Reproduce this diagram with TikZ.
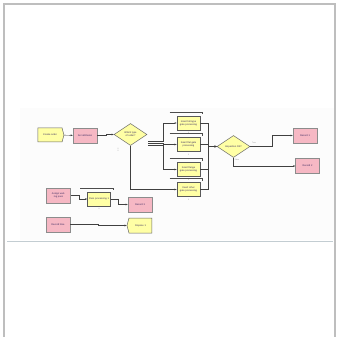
\documentclass[tikz,border=0pt]{standalone}
\usepackage{fontspec}
\setmainfont{Liberation Sans}
\usepackage{tikz}
\usetikzlibrary{arrows.meta,calc,shapes.geometric,shapes.symbols}
\definecolor{ProcessYellow}{RGB}{255,255,165}
\definecolor{RecordPink}{RGB}{246,184,196}
\definecolor{FrameGray}{RGB}{190,190,190}
\definecolor{RuleGray}{RGB}{195,205,210}
\definecolor{LabelInk}{RGB}{55,40,95}

\begin{document}
\begin{tikzpicture}[x=1pt,y=-1pt,>={Stealth[length=2.2pt,width=1.8pt]},
  every node/.style={font=\fontsize{2.4pt}{2.8pt}\selectfont,text=LabelInk,align=center,inner sep=0.5pt},
  process/.style={draw=black!65,line width=0.6pt,fill=ProcessYellow,minimum width=23pt,minimum height=14pt,text width=20pt},
  record/.style={draw=black!45,line width=0.5pt,fill=RecordPink,minimum width=24pt,minimum height=15pt,text width=21pt},
  decide/.style={diamond,draw=black!60,line width=0.5pt,fill=ProcessYellow,aspect=1.5,minimum width=33pt,minimum height=22pt,text width=18pt},
  terminal/.style={signal,signal to=east,signal pointer angle=150,draw=black!60,line width=0.5pt,fill=ProcessYellow,minimum width=26pt,minimum height=14pt,text width=19pt},
  wire/.style={->,draw=black!75,line width=0.45pt},
  queue/.style={draw=black!70,line width=0.4pt},
  count/.style={font=\fontsize{1.8pt}{2pt}\selectfont,text=black!45}]
  \useasboundingbox (0,0) rectangle (338,337);

  % page frame
  \fill[black!1] (20,108) rectangle (334,240);
  \draw[FrameGray,line width=1.6pt] (4,345) -- (4,4) -- (335,4) -- (335,345);
  \draw[RuleGray,line width=0.6pt] (7,241) -- (333,241);

  % order flow
  \node[terminal] (CreateOrder) at (50,135) {Create order};
  \node[record] (SetAttributes) at (85,135.5) {Set attributes};
  \node[decide] (OrderType) at (130.5,134.5) {Which type of order?};
  \node[process] (FullGate) at (188.5,123) {Insert full-type gate processing};
  \node[process] (FlatGate) at (188.5,144.5) {Insert flat gate processing};
  \node[process] (FlangeGate) at (188.5,169.5) {Insert flange gate processing};
  \node[process] (OtherGate) at (188.5,189.5) {Insert other gate processing};
  \node[decide] (InspectionOk) at (233.5,146.5) {Inspection OK?};
  \node[record] (RecordPass) at (305,135.5) {Record 1};
  \node[record] (RecordFail) at (307.5,166) {Record 2};

  % lower flows
  \node[record] (WaitingPass) at (58.5,195.5) {Assign waiting pass};
  \node[process] (PassCheck) at (99,199) {Pass processing 1};
  \node[record] (RecordWait) at (140,204.5) {Record 3};
  \node[record] (RecordTime) at (58,224.5) {Record time};
  \node[terminal,signal to=west,minimum width=25pt,minimum height=15pt] (DisposeOrder) at (140.5,225.5) {Dispose 1};

  \coordinate (ExitA) at (148,141);
  \coordinate (ExitB) at (148,143);
  \coordinate (ExitC) at (148,145);

  \draw[wire] (CreateOrder) -- (SetAttributes);
  \draw[wire] (SetAttributes.east) -- ++(9,0) |- (OrderType.west);
  \draw[wire] (ExitA) -- ++(15,0) |- (FullGate.west);
  \draw[wire] (ExitB) -- ++(15,0) |- (FlatGate.west);
  \draw[wire] (ExitC) -- ++(15,0) |- (FlangeGate.west);
  \draw[wire] (OrderType.south) |- (OtherGate.west);
  \foreach \p in {FullGate,FlatGate,FlangeGate,OtherGate}
    \draw[wire] (\p.east) -- ++(8,0) |- (InspectionOk.west);
  \draw[wire] (InspectionOk.east) -- ++(22,0) |- (RecordPass.west);
  \draw[wire] (InspectionOk.south) |- (RecordFail.west);

  \draw[wire] (WaitingPass.east) -- ++(8,0) |- (PassCheck.west);
  \draw[wire] (PassCheck.east) -- ++(7,0) |- (RecordWait.west);
  \draw[wire] (RecordTime.east) -- ++(28,0) |- (DisposeOrder.west);

  % queues and counters
  \foreach \p in {FullGate,FlatGate,FlangeGate,OtherGate,PassCheck} {
    \draw[queue] ($(\p.north west)+(-7,-3.5)$) -- ($(\p.north east)+(2,-3.5)$) -- ++(0,2);
    \node[count] at ($(\p.south)+(0,3)$) {0};
  }
  \node[count] at (118,150) {0\\0};
  \node[count] at (254,143) {True};
  \node[count] at (237,159.5) {False};
\end{tikzpicture}
\end{document}
